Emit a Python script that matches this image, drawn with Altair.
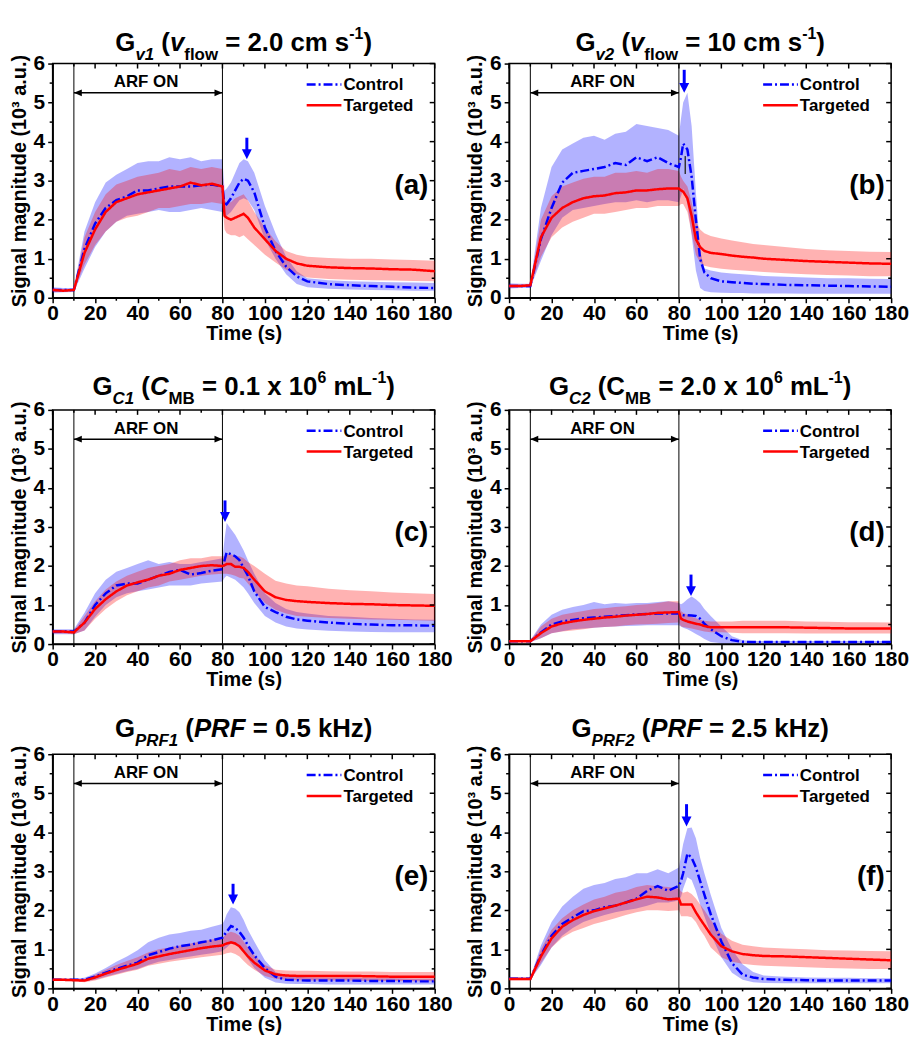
import altair as alt
import pandas as pd

FONT = "Liberation Sans"

TIME = [0, 5, 10, 15, 20, 25, 30, 35, 40, 45, 50, 55, 60, 65, 70, 75, 80, 81, 82, 84,
        86, 88, 90, 92, 95, 100, 105, 110, 115, 120, 130, 140, 150, 160, 170, 180]

# ---------------- panel (a) ----------------
a_ctrl_mean = [0.2, 0.2, 0.2, 1.25, 1.9, 2.3, 2.5, 2.6, 2.75, 2.75, 2.8, 2.85, 2.85, 2.85, 2.88, 2.9, 2.85, 2.35, 2.4, 2.55,
               2.75, 2.95, 3.05, 3.0, 2.7, 1.8, 1.2, 0.8, 0.55, 0.42, 0.35, 0.32, 0.3, 0.28, 0.26, 0.25]
a_ctrl_hi = [0.27, 0.25, 0.25, 1.7, 2.45, 2.95, 3.15, 3.3, 3.45, 3.5, 3.5, 3.6, 3.55, 3.6, 3.5, 3.55, 3.55, 2.75, 2.8, 2.95,
             3.2, 3.45, 3.55, 3.5, 3.2, 2.35, 1.65, 1.05, 0.68, 0.5, 0.45, 0.42, 0.41, 0.4, 0.39, 0.38]
a_ctrl_lo = [0.13, 0.14, 0.15, 0.75, 1.3, 1.7, 1.95, 2.1, 2.15, 2.2, 2.25, 2.2, 2.2, 2.25, 2.3, 2.25, 2.2, 2.05, 2.1, 2.2,
             2.35, 2.5, 2.55, 2.5, 2.25, 1.5, 1.0, 0.6, 0.35, 0.27, 0.23, 0.21, 0.2, 0.19, 0.18, 0.18]
a_tgt_mean = [0.2, 0.18, 0.2, 1.15, 1.75, 2.2, 2.45, 2.55, 2.65, 2.7, 2.75, 2.8, 2.85, 2.95, 2.88, 2.92, 2.85, 2.1, 2.05, 2.0,
              2.05, 2.1, 2.15, 2.05, 1.8, 1.5, 1.2, 1.0, 0.88, 0.82, 0.78, 0.76, 0.75, 0.73, 0.72, 0.68]
a_tgt_hi = [0.24, 0.22, 0.22, 1.55, 2.2, 2.65, 2.9, 3.0, 3.1, 3.15, 3.2, 3.3, 3.25, 3.35, 3.3, 3.35, 3.3, 2.5, 2.45, 2.45,
            2.55, 2.6, 2.65, 2.5, 2.2, 1.8, 1.45, 1.2, 1.1, 1.05, 1.02, 1.0, 1.0, 0.98, 0.97, 0.95]
a_tgt_lo = [0.16, 0.15, 0.17, 0.85, 1.35, 1.7, 1.95, 2.05, 2.1, 2.2, 2.3, 2.3, 2.35, 2.4, 2.4, 2.45, 2.4, 1.75, 1.65, 1.6,
            1.6, 1.55, 1.6, 1.5, 1.35, 1.1, 0.9, 0.72, 0.6, 0.52, 0.48, 0.46, 0.45, 0.44, 0.43, 0.42]

# ---------------- panel (b) ----------------
b_ctrl_mean = [0.3, 0.3, 0.3, 1.5, 2.3, 2.95, 3.2, 3.25, 3.3, 3.35, 3.45, 3.4, 3.6, 3.5, 3.6, 3.45, 3.35, 3.6, 3.95, 3.8,
               3.1, 2.0, 1.0, 0.65, 0.5, 0.42, 0.4, 0.38, 0.36, 0.35, 0.33, 0.32, 0.31, 0.3, 0.29, 0.28]
b_ctrl_hi = [0.37, 0.36, 0.36, 2.3, 3.35, 3.8, 3.95, 4.1, 4.15, 4.05, 4.2, 4.25, 4.45, 4.4, 4.35, 4.3, 4.15, 4.6, 5.0, 5.25,
             4.4, 2.7, 1.2, 0.75, 0.7, 0.65, 0.62, 0.6, 0.58, 0.56, 0.54, 0.52, 0.5, 0.5, 0.49, 0.48]
b_ctrl_lo = [0.24, 0.25, 0.25, 0.95, 1.6, 2.05, 2.25, 2.3, 2.35, 2.4, 2.45, 2.45, 2.5, 2.45, 2.5, 2.5, 2.45, 2.6, 2.8, 2.4,
             1.6, 0.7, 0.25, 0.17, 0.14, 0.13, 0.12, 0.12, 0.11, 0.11, 0.11, 0.1, 0.1, 0.1, 0.1, 0.1]
b_tgt_mean = [0.3, 0.3, 0.32, 1.55, 2.05, 2.3, 2.45, 2.55, 2.6, 2.62, 2.68, 2.7, 2.75, 2.75, 2.78, 2.8, 2.8, 2.75, 2.72, 2.55,
              2.1, 1.5, 1.3, 1.2, 1.15, 1.12, 1.08, 1.05, 1.03, 1.0, 0.97, 0.94, 0.92, 0.9, 0.88, 0.87]
b_tgt_hi = [0.34, 0.34, 0.34, 2.0, 2.6, 2.85, 2.95, 3.05, 3.1, 3.1, 3.2, 3.2, 3.25, 3.2, 3.3, 3.3, 3.25, 3.1, 3.0, 2.85,
            2.45, 1.95, 1.75, 1.65, 1.58, 1.52, 1.47, 1.42, 1.38, 1.35, 1.3, 1.25, 1.22, 1.2, 1.18, 1.17]
b_tgt_lo = [0.26, 0.27, 0.28, 1.05, 1.55, 1.8, 1.95, 2.05, 2.15, 2.15, 2.2, 2.25, 2.3, 2.3, 2.35, 2.35, 2.35, 2.4, 2.4, 2.2,
            1.65, 1.1, 0.9, 0.82, 0.78, 0.74, 0.72, 0.7, 0.68, 0.66, 0.63, 0.6, 0.58, 0.57, 0.55, 0.55]

# ---------------- panel (c) ----------------
c_ctrl_mean = [0.32, 0.32, 0.32, 0.55, 1.0, 1.3, 1.5, 1.55, 1.55, 1.65, 1.75, 1.85, 1.9, 1.78, 1.82, 1.88, 1.92, 2.15, 2.35, 2.3,
               2.25, 2.15, 1.95, 1.75, 1.35, 0.95, 0.82, 0.7, 0.63, 0.6, 0.55, 0.52, 0.5, 0.48, 0.48, 0.47]
c_ctrl_hi = [0.38, 0.38, 0.38, 0.8, 1.3, 1.65, 1.85, 1.95, 2.05, 2.15, 2.05, 2.1, 2.05, 2.05, 2.1, 2.15, 2.2, 2.7, 3.1, 2.95,
             2.8, 2.6, 2.4, 2.15, 1.8, 1.3, 1.05, 0.9, 0.82, 0.78, 0.72, 0.7, 0.67, 0.65, 0.63, 0.62]
c_ctrl_lo = [0.25, 0.25, 0.25, 0.35, 0.7, 1.0, 1.2, 1.3, 1.35, 1.4, 1.45, 1.5, 1.5, 1.5, 1.55, 1.58, 1.6, 1.7, 1.75, 1.7,
             1.65, 1.55, 1.45, 1.3, 1.05, 0.72, 0.55, 0.45, 0.4, 0.37, 0.34, 0.32, 0.31, 0.3, 0.3, 0.3]
c_tgt_mean = [0.32, 0.32, 0.3, 0.55, 0.9, 1.15, 1.35, 1.5, 1.58, 1.65, 1.75, 1.8, 1.9, 1.95, 2.0, 2.02, 2.0, 2.02, 2.05, 2.05,
              1.98, 1.98, 1.95, 1.85, 1.65, 1.35, 1.2, 1.13, 1.1, 1.08, 1.05, 1.03, 1.02, 1.0, 0.99, 0.98]
c_tgt_hi = [0.36, 0.36, 0.35, 0.72, 1.1, 1.4, 1.6, 1.75, 1.85, 1.95, 2.0, 2.05, 2.15, 2.2, 2.2, 2.25, 2.25, 2.25, 2.28, 2.3,
            2.25, 2.25, 2.2, 2.1, 2.0, 1.8, 1.62, 1.55, 1.5, 1.48, 1.42, 1.38, 1.35, 1.32, 1.3, 1.28]
c_tgt_lo = [0.27, 0.27, 0.25, 0.35, 0.65, 0.9, 1.1, 1.25, 1.35, 1.45, 1.5, 1.6, 1.65, 1.7, 1.75, 1.78, 1.8, 1.8, 1.8, 1.78,
            1.75, 1.7, 1.68, 1.55, 1.35, 1.05, 0.88, 0.78, 0.72, 0.7, 0.67, 0.65, 0.63, 0.62, 0.61, 0.6]

# ---------------- panel (d) ----------------
d_ctrl_mean = [0.07, 0.07, 0.07, 0.3, 0.5, 0.58, 0.62, 0.66, 0.68, 0.7, 0.72, 0.74, 0.76, 0.77, 0.78, 0.78, 0.78, 0.75, 0.74, 0.74,
               0.73, 0.72, 0.65, 0.52, 0.38, 0.2, 0.1, 0.06, 0.05, 0.05, 0.05, 0.05, 0.05, 0.05, 0.05, 0.05]
d_ctrl_hi = [0.1, 0.1, 0.1, 0.5, 0.75, 0.88, 0.95, 1.0, 1.08, 1.02, 1.05, 1.03, 1.05, 1.05, 1.08, 1.1, 1.05, 1.02, 1.05, 1.15,
             1.22, 1.15, 1.05, 0.9, 0.72, 0.45, 0.2, 0.1, 0.08, 0.08, 0.08, 0.08, 0.08, 0.08, 0.08, 0.08]
d_ctrl_lo = [0.05, 0.05, 0.05, 0.15, 0.28, 0.33, 0.38, 0.4, 0.42, 0.44, 0.45, 0.46, 0.47, 0.48, 0.48, 0.48, 0.48, 0.45, 0.42, 0.38,
             0.32, 0.26, 0.2, 0.13, 0.05, 0.02, 0.02, 0.02, 0.02, 0.02, 0.02, 0.02, 0.02, 0.02, 0.02, 0.02]
d_tgt_mean = [0.07, 0.07, 0.07, 0.28, 0.45, 0.53, 0.58, 0.62, 0.65, 0.68, 0.7, 0.73, 0.75, 0.77, 0.8, 0.81, 0.82, 0.65, 0.62, 0.58,
              0.55, 0.52, 0.5, 0.46, 0.43, 0.43, 0.43, 0.43, 0.43, 0.43, 0.43, 0.42, 0.41, 0.4, 0.4, 0.4]
d_tgt_hi = [0.09, 0.09, 0.09, 0.45, 0.65, 0.75, 0.8, 0.85, 0.9, 0.92, 0.95, 0.97, 1.0, 1.02, 1.05, 1.1, 1.1, 0.85, 0.8, 0.75,
            0.7, 0.66, 0.62, 0.6, 0.58, 0.58, 0.58, 0.6, 0.6, 0.6, 0.6, 0.58, 0.57, 0.56, 0.56, 0.55]
d_tgt_lo = [0.05, 0.05, 0.05, 0.15, 0.28, 0.32, 0.35, 0.38, 0.42, 0.44, 0.45, 0.48, 0.5, 0.51, 0.52, 0.54, 0.55, 0.45, 0.44, 0.42,
            0.4, 0.37, 0.35, 0.32, 0.3, 0.3, 0.29, 0.28, 0.28, 0.28, 0.28, 0.27, 0.27, 0.27, 0.27, 0.27]

# ---------------- panel (e) ----------------
e_ctrl_mean = [0.22, 0.22, 0.22, 0.22, 0.3, 0.4, 0.5, 0.58, 0.66, 0.85, 0.93, 1.02, 1.08, 1.12, 1.18, 1.23, 1.3, 1.38, 1.45, 1.6,
               1.55, 1.45, 1.3, 1.1, 0.85, 0.52, 0.3, 0.22, 0.21, 0.2, 0.2, 0.2, 0.19, 0.19, 0.18, 0.18]
e_ctrl_hi = [0.25, 0.25, 0.25, 0.27, 0.38, 0.52, 0.68, 0.82, 0.98, 1.18, 1.3, 1.38, 1.42, 1.48, 1.5, 1.58, 1.65, 1.75, 1.9, 2.08,
             2.05, 1.95, 1.75, 1.5, 1.2, 0.72, 0.42, 0.32, 0.3, 0.28, 0.27, 0.27, 0.26, 0.26, 0.25, 0.25]
e_ctrl_lo = [0.19, 0.19, 0.19, 0.18, 0.22, 0.3, 0.37, 0.44, 0.5, 0.6, 0.68, 0.73, 0.78, 0.82, 0.86, 0.9, 0.95, 1.0, 1.05, 1.15,
             1.12, 1.05, 0.92, 0.75, 0.52, 0.27, 0.15, 0.12, 0.11, 0.11, 0.1, 0.1, 0.1, 0.1, 0.1, 0.1]
e_tgt_mean = [0.22, 0.22, 0.21, 0.2, 0.28, 0.38, 0.47, 0.55, 0.63, 0.76, 0.82, 0.88, 0.93, 0.98, 1.03, 1.07, 1.1, 1.13, 1.15, 1.18,
              1.15, 1.08, 0.95, 0.82, 0.66, 0.46, 0.36, 0.33, 0.32, 0.32, 0.32, 0.32, 0.31, 0.3, 0.3, 0.3]
e_tgt_hi = [0.25, 0.25, 0.24, 0.24, 0.35, 0.48, 0.6, 0.7, 0.8, 0.92, 1.0, 1.05, 1.1, 1.15, 1.2, 1.25, 1.3, 1.35, 1.4, 1.45,
            1.42, 1.35, 1.2, 1.05, 0.85, 0.6, 0.48, 0.46, 0.45, 0.45, 0.44, 0.43, 0.43, 0.42, 0.42, 0.42]
e_tgt_lo = [0.19, 0.19, 0.18, 0.16, 0.2, 0.28, 0.35, 0.42, 0.48, 0.58, 0.63, 0.68, 0.72, 0.76, 0.8, 0.83, 0.86, 0.88, 0.9, 0.92,
            0.88, 0.82, 0.7, 0.6, 0.48, 0.32, 0.25, 0.22, 0.21, 0.2, 0.2, 0.2, 0.19, 0.19, 0.18, 0.18]

# ---------------- panel (f) ----------------
f_ctrl_mean = [0.25, 0.25, 0.25, 0.85, 1.35, 1.65, 1.82, 1.98, 2.0, 2.08, 2.12, 2.2, 2.3, 2.5, 2.62, 2.5, 2.63, 2.75, 2.95, 3.45,
               3.35, 3.1, 2.75, 2.4, 1.9, 1.2, 0.65, 0.35, 0.28, 0.24, 0.22, 0.21, 0.2, 0.2, 0.2, 0.2]
f_ctrl_hi = [0.29, 0.29, 0.28, 1.1, 1.7, 2.1, 2.35, 2.55, 2.65, 2.7, 2.8, 2.85, 2.95, 2.95, 3.05, 2.95, 3.1, 3.4, 3.7, 4.1,
             4.12, 3.85, 3.35, 2.95, 2.4, 1.55, 1.0, 0.62, 0.42, 0.33, 0.3, 0.28, 0.27, 0.27, 0.26, 0.26]
f_ctrl_lo = [0.22, 0.22, 0.22, 0.6, 1.05, 1.35, 1.55, 1.7, 1.8, 1.88, 1.95, 2.0, 2.05, 2.12, 2.2, 2.2, 2.25, 2.35, 2.55, 2.85,
             2.78, 2.5, 2.15, 1.85, 1.4, 0.8, 0.4, 0.22, 0.16, 0.14, 0.13, 0.13, 0.13, 0.13, 0.13, 0.13]
f_tgt_mean = [0.24, 0.24, 0.24, 0.82, 1.28, 1.58, 1.75, 1.88, 1.98, 2.05, 2.12, 2.2, 2.28, 2.35, 2.33, 2.28, 2.3, 2.15, 2.15, 2.15,
              2.15, 1.95, 1.78, 1.62, 1.38, 1.08, 0.95, 0.88, 0.85, 0.83, 0.82, 0.8, 0.78, 0.76, 0.74, 0.72]
f_tgt_hi = [0.27, 0.27, 0.27, 1.0, 1.5, 1.8, 2.0, 2.15, 2.28, 2.35, 2.45, 2.5, 2.6, 2.65, 2.62, 2.6, 2.55, 2.48, 2.45, 2.48,
            2.42, 2.3, 2.15, 2.0, 1.75, 1.4, 1.22, 1.12, 1.08, 1.05, 1.02, 1.0, 0.98, 0.97, 0.96, 0.95]
f_tgt_lo = [0.21, 0.21, 0.21, 0.65, 1.05, 1.3, 1.45, 1.55, 1.65, 1.72, 1.8, 1.88, 1.95, 2.0, 2.0, 1.98, 2.0, 1.85, 1.85, 1.85,
            1.82, 1.7, 1.5, 1.35, 1.05, 0.8, 0.68, 0.63, 0.6, 0.58, 0.56, 0.54, 0.52, 0.51, 0.5, 0.5]

# peak-marker arrows: x, shaft top, tip
ARROW_X = [91.5, 82.5, 81.2, 85.7, 85.0, 83.6]
ARROW_TOP = [4.1, 5.84, 3.68, 1.78, 2.68, 4.72]
ARROW_TIP = [3.55, 5.25, 3.13, 1.23, 2.15, 4.15]
PANEL_LABELS = ["(a)", "(b)", "(c)", "(d)", "(e)", "(f)"]
SERIES = ["Control", "Targeted"]
ARF_START, ARF_END = 10, 80
ARF_ARROW_Y = 5.25
ARF_TEXT = "ARF ON"
ARF_TEXT_X, ARF_TEXT_Y = 44, 5.52
LABEL_X, LABEL_Y = 177, 2.85
B_MARK = [83, 3.17, 3.63]  # small vertical mark in panel (b)

X_MAJOR = list(range(0, 181, 20))
X_MINOR = list(range(10, 180, 20))
Y_MAJOR = [0, 1, 2, 3, 4, 5, 6]
Y_MINOR = [0.5, 1.5, 2.5, 3.5, 4.5, 5.5]

TITLES = [
    [("G", "n"), ("v1", "subi"), (" (", "n"), ("v", "i"), ("flow", "sub"), (" = 2.0 cm s", "n"), ("-1", "sup"), (")", "n")],
    [("G", "n"), ("v2", "subi"), (" (", "n"), ("v", "i"), ("flow", "sub"), (" = 10 cm s", "n"), ("-1", "sup"), (")", "n")],
    [("G", "n"), ("C1", "subi"), (" (", "n"), ("C", "i"), ("MB", "sub"), (" = 0.1 x 10", "n"), ("6", "sup"), (" mL", "n"), ("-1", "sup"), (")", "n")],
    [("G", "n"), ("C2", "subi"), (" (", "n"), ("C", "n"), ("MB", "sub"), (" = 2.0 x 10", "n"), ("6", "sup"), (" mL", "n"), ("-1", "sup"), (")", "n")],
    [("G", "n"), ("PRF1", "subi"), (" (", "n"), ("PRF", "i"), (" = 0.5 kHz)", "n")],
    [("G", "n"), ("PRF2", "subi"), (" (", "n"), ("PRF", "i"), (" = 2.5 kHz)", "n")],
]
TITLE_BASE = [-13, -13, -15, -15, -17, -17]

W, H = 385, 236
BLUE, RED = "#0000ff", "#ff0000"
CTRL_DASH = [9, 3, 2, 3]

CHAR_W = {' ': 278, '(': 333, ')': 333, '-': 333, '.': 278, '=': 584, 'x': 556, 'A': 722, 'B': 722,
          'C': 722, 'F': 611, 'G': 778, 'H': 722, 'L': 611, 'M': 833, 'N': 722, 'O': 778, 'P': 667,
          'R': 722, 'a': 556, 'c': 556, 'f': 333, 'k': 556, 'l': 278, 'm': 889, 'o': 611, 's': 556,
          'v': 556, 'w': 778, 'z': 500}
STYLES = {"n": (26, "normal", 0), "i": (26, "italic", 0), "sub": (17, "normal", 9),
          "subi": (17, "italic", 9), "sup": (16, "normal", -12)}


def text_w(s, size):
    return sum(CHAR_W.get(ch, 556) for ch in s) * size / 1000.0


def title_layers(segments, base):
    widths = [text_w(t, STYLES[st][0]) for t, st in segments]
    x = W / 2 - sum(widths) / 2
    out = []
    for (t, st), w in zip(segments, widths):
        size, style, dy = STYLES[st]
        stripped = t.lstrip(" ")
        lead = text_w(t[: len(t) - len(stripped)], size)
        out.append(
            alt.Chart(pd.DataFrame({"s": [stripped]}))
            .mark_text(align="left", baseline="alphabetic", fontSize=size, fontStyle=style,
                       fontWeight="bold", font=FONT, color="black")
            .encode(text="s:N", x=alt.value(x + lead), y=alt.value(base + dy))
        )
        x += w
    return out


def legend_layers():
    out = []
    rows = [(SERIES[0], BLUE, CTRL_DASH, 21), (SERIES[1], RED, [1, 0], 42)]
    for name, col, dash, yy in rows:
        d = pd.DataFrame({"s": [name]})
        out.append(alt.Chart(d).mark_rule(color=col, strokeWidth=2.5, strokeDash=dash)
                   .encode(x=alt.value(256), x2=alt.value(291), y=alt.value(yy)))
        out.append(alt.Chart(d).mark_text(align="left", baseline="middle", font=FONT, fontSize=17,
                                          fontWeight="bold", color="black")
                   .encode(text="s:N", x=alt.value(293), y=alt.value(yy + 1)))
    return out


XS = alt.Scale(domain=[0, 180], nice=False)
YS = alt.Scale(domain=[0, 6], nice=False)
XA = alt.Axis(values=X_MAJOR, title="Time (s)", labelFlush=False, titlePadding=0, labelPadding=0)
YA = alt.Axis(values=Y_MAJOR, title="Signal magnitude (10³ a.u.)", labelPadding=3, titlePadding=4)


def X(f):
    return alt.X(f, type="quantitative", scale=XS, axis=XA)


def Y(f):
    return alt.Y(f, type="quantitative", scale=YS, axis=YA)


LEFT_HEAD = "M0,0L2,-0.85L2,0.85Z"
RIGHT_HEAD = "M0,0L-2,-0.85L-2,0.85Z"
DOWN_HEAD = "M0,0L-1,-2L1,-2Z"


def panel(i, cm, chi, clo, tm, thi, tlo):
    n = len(TIME)
    band_c = pd.DataFrame({"t": TIME, "lo": clo, "hi": chi})
    band_t = pd.DataFrame({"t": TIME, "lo": tlo, "hi": thi})
    lines = pd.DataFrame({"t": TIME * 2, "v": cm + tm, "series": [SERIES[0]] * n + [SERIES[1]] * n})

    layers = []
    layers.append(alt.Chart(band_c).mark_area(color=BLUE, opacity=0.3).encode(x=X("t"), y=Y("lo"), y2="hi"))
    layers.append(alt.Chart(band_t).mark_area(color=RED, opacity=0.3).encode(x=X("t"), y=Y("lo"), y2="hi"))
    layers.append(alt.Chart(pd.DataFrame({"x": [ARF_START, ARF_END]}))
                  .mark_rule(color="black", strokeWidth=1).encode(x=X("x")))
    layers.append(
        alt.Chart(lines).mark_line(strokeWidth=2.5).encode(
            x=X("t"), y=Y("v"),
            color=alt.Color("series:N", scale=alt.Scale(domain=SERIES, range=[BLUE, RED]), legend=None),
            strokeDash=alt.StrokeDash("series:N", scale=alt.Scale(domain=SERIES, range=[CTRL_DASH, [1, 0]]), legend=None),
            detail="series:N",
        )
    )
    arf = pd.DataFrame({"x": [ARF_START], "x2": [ARF_END], "y": [ARF_ARROW_Y]})
    layers.append(alt.Chart(arf).mark_rule(color="black", strokeWidth=1.5).encode(x=X("x"), x2="x2", y=Y("y")))
    layers.append(alt.Chart(pd.DataFrame({"x": [ARF_START], "y": [ARF_ARROW_Y]}))
                  .mark_point(shape=LEFT_HEAD, size=64, filled=True, color="black", opacity=1).encode(x=X("x"), y=Y("y")))
    layers.append(alt.Chart(pd.DataFrame({"x": [ARF_END], "y": [ARF_ARROW_Y]}))
                  .mark_point(shape=RIGHT_HEAD, size=64, filled=True, color="black", opacity=1).encode(x=X("x"), y=Y("y")))
    layers.append(alt.Chart(pd.DataFrame({"x": [ARF_TEXT_X], "y": [ARF_TEXT_Y], "s": [ARF_TEXT]}))
                  .mark_text(font=FONT, fontSize=17, fontWeight="bold", color="black", baseline="middle")
                  .encode(x=X("x"), y=Y("y"), text="s:N"))
    # peak arrow
    arr = pd.DataFrame({"x": [ARROW_X[i]], "top": [ARROW_TOP[i]], "tip": [ARROW_TIP[i]],
                        "shaft_end": [ARROW_TIP[i] + 0.15]})
    layers.append(alt.Chart(arr).mark_rule(color=BLUE, strokeWidth=3).encode(x=X("x"), y=Y("top"), y2="shaft_end"))
    layers.append(alt.Chart(arr).mark_point(shape=DOWN_HEAD, size=100, filled=True, color=BLUE, opacity=1)
                  .encode(x=X("x"), y=Y("tip")))
    if i == 1:
        bm = pd.DataFrame({"x": [B_MARK[0]], "y": [B_MARK[1]], "y2": [B_MARK[2]]})
        layers.append(alt.Chart(bm).mark_rule(color="#333333", strokeWidth=1.5).encode(x=X("x"), y=Y("y"), y2="y2"))
    # panel label
    layers.append(alt.Chart(pd.DataFrame({"x": [LABEL_X], "y": [LABEL_Y], "s": [PANEL_LABELS[i]]}))
                  .mark_text(font=FONT, fontSize=28, fontWeight="bold", color="black", align="right", baseline="middle")
                  .encode(x=X("x"), y=Y("y"), text="s:N"))
    # mirrored / minor ticks
    xmaj = pd.DataFrame({"v": X_MAJOR})
    xmin = pd.DataFrame({"v": X_MINOR})
    ymaj = pd.DataFrame({"v": Y_MAJOR})
    ymin = pd.DataFrame({"v": Y_MINOR})
    tk = dict(color="black", strokeWidth=1.5)
    layers.append(alt.Chart(xmaj).mark_rule(**tk).encode(x=X("v"), y=alt.value(0), y2=alt.value(5)))
    layers.append(alt.Chart(xmin).mark_rule(**tk).encode(x=X("v"), y=alt.value(0), y2=alt.value(3)))
    layers.append(alt.Chart(xmin).mark_rule(**tk).encode(x=X("v"), y=alt.value(H), y2=alt.value(H + 3)))
    layers.append(alt.Chart(ymaj).mark_rule(**tk).encode(y=Y("v"), x=alt.value(W), x2=alt.value(W - 5)))
    layers.append(alt.Chart(ymin).mark_rule(**tk).encode(y=Y("v"), x=alt.value(W), x2=alt.value(W - 3)))
    layers.append(alt.Chart(ymin).mark_rule(**tk).encode(y=Y("v"), x=alt.value(0), x2=alt.value(-3)))
    layers += legend_layers()
    layers += title_layers(TITLES[i], TITLE_BASE[i])
    return alt.layer(*layers).properties(width=W, height=H)


panels = [
    panel(0, a_ctrl_mean, a_ctrl_hi, a_ctrl_lo, a_tgt_mean, a_tgt_hi, a_tgt_lo),
    panel(1, b_ctrl_mean, b_ctrl_hi, b_ctrl_lo, b_tgt_mean, b_tgt_hi, b_tgt_lo),
    panel(2, c_ctrl_mean, c_ctrl_hi, c_ctrl_lo, c_tgt_mean, c_tgt_hi, c_tgt_lo),
    panel(3, d_ctrl_mean, d_ctrl_hi, d_ctrl_lo, d_tgt_mean, d_tgt_hi, d_tgt_lo),
    panel(4, e_ctrl_mean, e_ctrl_hi, e_ctrl_lo, e_tgt_mean, e_tgt_hi, e_tgt_lo),
    panel(5, f_ctrl_mean, f_ctrl_hi, f_ctrl_lo, f_tgt_mean, f_tgt_hi, f_tgt_lo),
]

chart = (
    alt.concat(*panels, columns=2, spacing={"row": 25, "column": 11})
    .resolve_scale(color="independent", strokeDash="independent")
    .properties(padding={"left": 0, "top": 13, "right": 0, "bottom": 0}, background="white")
    .configure_view(stroke="black", strokeWidth=1.5)
    .configure_axis(labelFont=FONT, labelFontSize=21, labelFontWeight="bold", labelColor="black",
                    titleFont=FONT, titleFontSize=20, titleFontWeight="bold", titleColor="black",
                    domainColor="black", domainWidth=1.5, tickColor="black", tickWidth=1.5, tickSize=5,
                    grid=False, labelOverlap=False)
)

chart.save("out.html", embed_options={"renderer": "svg", "actions": False})
